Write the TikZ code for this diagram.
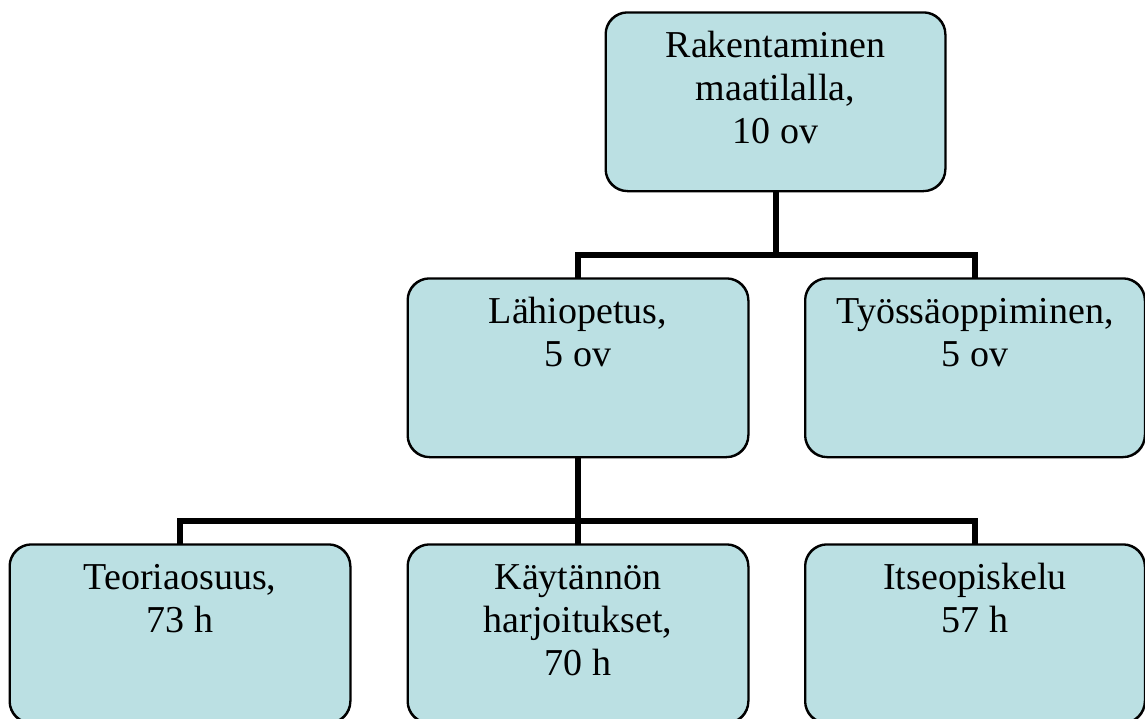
\documentclass[tikz,border=0pt]{standalone}
\usepackage{fontspec}
\setmainfont{Liberation Serif}
\definecolor{boxfill}{RGB}{187,224,227}
\newcommand{\boxtext}[1]{\parbox[c][178pt][t]{330pt}{\centering\fontsize{38}{43}\selectfont\vspace*{15pt}#1}}
\tikzset{
  orgbox/.style={draw=black, line width=1.5pt, fill=boxfill, rounded corners=22pt,
    inner sep=0pt, minimum width=340pt, minimum height=178pt, anchor=north},
  boxline/.style={draw=black, line width=1.5pt, rounded corners=22pt},
  conn/.style={draw=black, line width=6pt, line join=miter}
}
\begin{document}
\begin{tikzpicture}
\useasboundingbox (0,0) rectangle (1145pt,-718pt);
\fill[white] (0,0) rectangle (1145pt,-718pt);
% junctions
\coordinate (j1) at (775.5pt,-255pt);
\coordinate (j2) at (578pt,-521pt);
% nodes
\node[orgbox, minimum width=339pt, minimum height=177pt] (top) at (775.5pt,-12pt) {\boxtext{\strut Rakentaminen\\ maatilalla,\\ 10 ov}};
\node[orgbox] (ml) at (578pt,-278pt) {\boxtext{\strut Lähiopetus,\\ 5 ov}};
\node[orgbox, minimum width=339pt] (mr) at (975pt,-278pt) {\boxtext{\strut Työssäoppiminen,\\ 5 ov}};
\node[orgbox] (bl) at (180pt,-544pt) {\boxtext{\strut Teoriaosuus,\\ 73 h}};
\node[orgbox] (bm) at (578pt,-544pt) {\boxtext{\strut Käytännön\\ harjoitukset,\\ 70 h}};
\node[orgbox, minimum width=339pt] (br) at (975pt,-544pt) {\boxtext{\strut Itseopiskelu\\ 57 h}};
% connectors
\draw[conn] (top.south) -- (j1);
\draw[conn] (ml.north) |- (j1) -| (mr.north);
\draw[conn] (ml.south) -- (j2);
\draw[conn] (bl.north) |- (j2) -| (br.north);
\draw[conn] (bm.north) -- (j2);
% redraw box borders over connector ends
\foreach \n in {top,ml,mr,bl,bm,br}{
  \draw[boxline] (\n.north west) rectangle (\n.south east);
}
\end{tikzpicture}
\end{document}
